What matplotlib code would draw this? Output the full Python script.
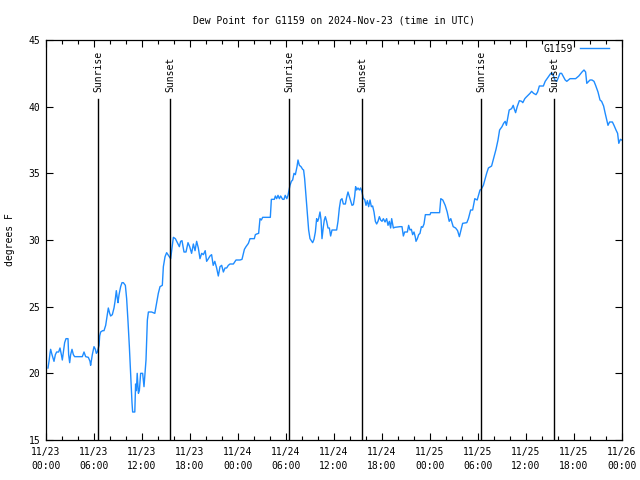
import numpy as np
import pandas as pd
import matplotlib
matplotlib.use('Agg')
import matplotlib.pyplot as plt
import matplotlib.dates as mdates

# hours after 2024-11-23 00:00 UTC and dew point (F)
hours = [0.25, 0.4, 0.5, 0.58, 0.75, 1.0, 1.17, 1.33, 1.58, 1.75, 1.92, 2.04, 2.17, 2.33, 2.5,
         2.75, 2.83, 2.96, 3.08, 3.25, 3.42, 3.58, 4.13, 4.54, 4.75, 4.96, 5.29, 5.5, 5.58, 5.79,
         6.0, 6.17, 6.29, 6.42, 6.63, 6.71, 6.83, 7.08, 7.25, 7.46, 7.67, 7.79, 7.96, 8.08, 8.29,
         8.5, 8.63, 8.79, 8.92, 9.0, 9.13, 9.33, 9.5, 9.67, 9.92, 10.08, 10.25, 10.42, 10.58, 10.75,
         10.83, 11.1, 11.2, 11.3, 11.4, 11.55, 11.67, 11.83, 12.08, 12.25, 12.5, 12.67, 12.8, 13.2,
         13.6, 13.83, 14.04, 14.25, 14.54, 14.67, 14.88, 15.08, 15.42, 15.58, 15.75, 15.92, 16.17,
         16.42, 16.67, 16.83, 17.0, 17.25, 17.5, 17.75, 17.96, 18.2, 18.42, 18.63, 18.83, 19.04,
         19.25, 19.46, 19.67, 19.9, 20.08, 20.3, 20.5, 20.7, 20.9, 21.1, 21.33, 21.54, 21.75, 21.96,
         22.17, 22.38, 22.58, 22.79, 23.0, 23.42, 23.75, 24.25, 24.5, 24.8, 25.0, 25.3, 25.5, 26.04,
         26.17, 26.33, 26.58, 26.67, 26.75, 26.92, 27.08, 28.04, 28.17, 28.54, 28.67, 28.83, 29.0,
         29.17, 29.33, 29.58, 29.75, 29.9, 30.1, 30.25, 30.5, 30.67, 30.83, 31.0, 31.17, 31.375,
         31.5, 31.67, 31.875, 32.08, 32.2, 32.33, 32.5, 32.7, 32.83, 33.0, 33.17, 33.33, 33.5,
         33.67, 33.83, 33.96, 34.08, 34.25, 34.38, 34.5, 34.67, 34.79, 34.92, 35.08, 35.25, 35.42,
         35.58, 35.75, 36.33, 36.5, 36.67, 36.83, 37.0, 37.17, 37.42, 37.58, 37.75, 37.92, 38.08,
         38.25, 38.42, 38.58, 38.7, 38.83, 39.0, 39.17, 39.33, 39.5, 39.67, 39.83, 40.0, 40.17,
         40.33, 40.5, 40.67, 40.83, 41.0, 41.17, 41.33, 41.5, 41.67, 41.83, 42.0, 42.17, 42.38,
         42.58, 42.75, 42.92, 43.08, 43.21, 43.42, 43.6, 44.25, 44.5, 44.67, 44.83, 45.17, 45.33,
         45.5, 45.67, 45.83, 46.0, 46.17, 46.25, 46.42, 46.58, 46.75, 46.92, 47.08, 47.25, 47.42,
         47.58, 48.0, 48.1, 49.2, 49.35, 49.6, 49.9, 50.15, 50.4, 50.6, 50.9, 51.2, 51.45, 51.67,
         51.83, 52.08, 52.6, 52.8, 53.08, 53.33, 53.6, 53.9, 54.25, 54.4, 54.67, 55.08, 55.3, 55.7,
         56.0, 56.25, 56.5, 56.7, 57.0, 57.2, 57.4, 57.55, 57.9, 58.2, 58.4, 58.55, 58.7, 58.9,
         59.17, 59.45, 59.6, 59.85, 60.0, 60.5, 60.7, 60.95, 61.25, 61.45, 61.67, 62.17, 62.4,
         62.8, 63.1, 63.35, 63.6, 63.85, 64.25, 64.45, 64.9, 65.1, 65.5, 66.2, 66.6, 67.0, 67.25,
         67.45, 67.6, 68.0, 68.25, 68.5, 68.7, 69.0, 69.25, 69.45, 69.7, 69.9, 70.25, 70.45, 70.8,
         71.0, 71.25, 71.45, 71.6, 71.8, 71.95]
dewpt = [20.4, 21.0, 21.5, 21.8, 21.4, 20.9, 21.4, 21.6, 21.6, 21.9, 21.4, 21.0, 21.6, 22.3, 22.6,
         22.6, 21.4, 20.8, 21.4, 21.8, 21.4, 21.25, 21.25, 21.25, 21.6, 21.25, 21.2, 20.9, 20.6, 21.4,
         22.0, 21.8, 21.5, 21.6, 22.1, 22.8, 23.1, 23.2, 23.2, 23.6, 24.4, 24.9, 24.5, 24.3, 24.4,
         24.9, 25.4, 26.2, 25.6, 25.3, 25.9, 26.5, 26.8, 26.8, 26.6, 25.6, 23.9, 22.0, 19.9, 17.8,
         17.1, 17.1, 19.2, 18.7, 20.0, 18.5, 18.7, 20.0, 20.0, 19.0, 21.0, 24.0, 24.6, 24.6,
         24.5, 25.3, 26.0, 26.5, 26.6, 28.0, 28.75, 29.05, 28.75, 28.6, 29.4, 30.2, 30.1,
         29.8, 29.5, 29.9, 29.95, 29.1, 29.1, 29.8, 29.5, 29.0, 29.7, 29.2, 29.9, 29.4,
         28.6, 29.0, 28.9, 29.2, 28.4, 28.6, 28.8, 28.9, 28.1, 28.4, 27.9, 27.3, 28.0, 28.1,
         27.6, 27.9, 27.9, 28.1, 28.2, 28.2, 28.5, 28.5, 28.55, 29.3, 29.5, 29.75, 30.1, 30.1,
         30.4, 30.45, 30.5, 31.1, 31.6, 31.5, 31.7, 31.7, 33.05, 33.05, 33.3, 33.1, 33.35,
         33.1, 33.3, 33.05, 33.05, 33.35, 33.1, 33.35, 34.1, 34.4, 34.5, 35.0, 34.9, 35.5,
         36.0, 35.6, 35.5, 35.3, 35.25, 34.6, 33.25, 31.75, 30.75, 30.1, 29.95, 29.8, 30.05,
         30.6, 31.6, 31.4, 31.6, 32.1, 31.5, 30.1, 31.0, 31.5, 31.75, 31.4, 30.9, 30.9,
         30.3, 30.75, 30.75, 31.4, 32.4, 33.0, 33.1, 32.7, 32.7, 33.2, 33.6, 33.25, 32.9,
         32.6, 32.65, 33.25, 34.0, 33.75, 33.9, 33.75, 33.9, 33.6, 33.1, 33.05, 32.6, 32.95,
         32.5, 33.0, 32.5, 32.55, 32.1, 31.4, 31.2, 31.4, 31.75, 31.5, 31.4, 31.6, 31.35,
         31.6, 31.1, 31.4, 30.9, 31.6, 30.9, 30.95, 31.0, 31.0, 30.3, 30.6, 30.6, 31.1,
         30.75, 30.8, 30.4, 30.6, 30.2, 29.9, 30.1, 30.4, 30.5, 31.0, 30.95, 31.2, 31.9,
         31.9, 31.9, 32.05, 32.05, 33.1, 33.0, 32.6, 32.1, 31.4, 31.6, 31.0, 30.9, 30.7, 30.25,
         30.65, 31.25, 31.3, 31.6, 32.25, 32.25, 33.1, 33.0, 33.75, 33.8, 34.1, 35.0, 35.4, 35.55,
         36.25, 36.8, 37.5, 38.25, 38.5, 38.75, 38.9, 38.6, 39.75, 39.85, 40.1, 39.8, 39.55, 40.0,
         40.45, 40.4, 40.3, 40.6, 40.7, 41.0, 41.15, 41.0, 40.9, 41.1, 41.55, 41.55, 41.9,
         42.25, 42.5, 42.5, 42.0, 41.9, 42.5, 42.5, 42.0, 41.9, 42.1, 42.1, 42.3, 42.6, 42.75,
         42.6, 41.75, 42.0, 42.0, 41.9, 41.6, 41.1, 40.5, 40.4, 40.05, 39.5, 38.6, 38.85, 38.85,
         38.6, 38.25, 38.0, 37.25, 37.55, 37.5]

sun_hours = [6.55, 15.54, 30.42, 39.54, 54.4, 63.54]
sun_labels = ['Sunrise', 'Sunset', 'Sunrise', 'Sunset', 'Sunrise', 'Sunset']

start = pd.Timestamp('2024-11-23 00:00')
times = start + pd.to_timedelta(hours, unit='h')
sun_times = start + pd.to_timedelta(sun_hours, unit='h')

font = 'DejaVu Sans Mono'
fs = 7
plt.rcParams['font.family'] = font
plt.rcParams['font.size'] = fs

fig = plt.figure(figsize=(6.4, 4.8), dpi=100)
ax = fig.add_axes([46/640, 40/480, 576/640, 400/480])

ax.plot(times, dewpt, color='#1e8cff', lw=1.0, label='G1159')

# sunrise / sunset markers
for t, lab in zip(sun_times, sun_labels):
    ax.plot([t, t], [0, 0.8525], color='black', lw=1.0,
            transform=ax.get_xaxis_transform())
    ax.text(t, 0.87, lab, rotation=90, ha='center', va='bottom',
            transform=ax.get_xaxis_transform(), fontsize=fs)

ax.set_xlim(start, start + pd.Timedelta(hours=72))
ax.set_ylim(15, 45)
ax.set_yticks(np.arange(15, 46, 5))
ax.xaxis.set_major_locator(mdates.HourLocator(byhour=[0, 6, 12, 18]))
ax.xaxis.set_minor_locator(mdates.HourLocator(interval=2))
ax.xaxis.set_major_formatter(mdates.DateFormatter('%m/%d\n%H:%M'))

ax.tick_params(which='both', direction='in', top=True, right=True, width=0.8)
ax.tick_params(which='major', length=5, pad=4)
ax.tick_params(which='minor', length=3)
ax.tick_params(axis='x', pad=5)
fig.canvas.draw()
for lbl in ax.get_xticklabels():
    lbl.set_ha('center')
    lbl.set_linespacing(1.55)
for s in ax.spines.values():
    s.set_linewidth(0.9)

ax.set_ylabel('degrees F', labelpad=10)
ax.set_title('Dew Point for G1159 on 2024-Nov-23 (time in UTC)', fontsize=fs, pad=12)

ax.legend(loc='upper right', frameon=False, markerfirst=False, handlelength=3.0,
          fontsize=fs, borderaxespad=0.0, handletextpad=0.8,
          bbox_to_anchor=(0.985, 1.0))

fig.savefig('out.png', dpi=100)
